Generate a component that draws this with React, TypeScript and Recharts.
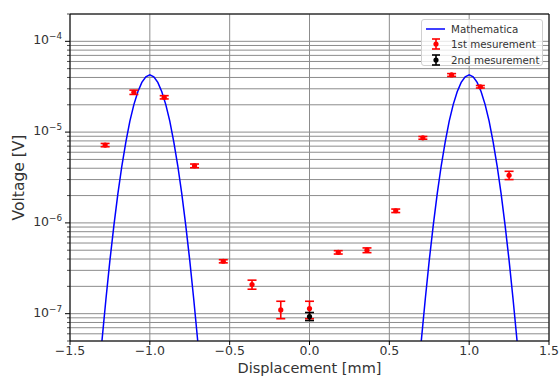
import React from "react";
import {
  ComposedChart,
  Line,
  Scatter,
  ErrorBar,
  XAxis,
  YAxis,
  CartesianGrid,
  ReferenceLine,
} from "recharts";

// 1st measurement (red)
const firstX = [-1.28, -1.1, -0.91, -0.72, -0.54, -0.36, -0.18, 0, 0.18, 0.36, 0.54, 0.71, 0.89, 1.07, 1.25];
const firstV = [7.2e-6, 2.75e-5, 2.42e-5, 4.25e-6, 3.78e-7, 2.09e-7, 1.1e-7, 1.14e-7, 4.74e-7, 5.0e-7, 1.36e-6, 8.65e-6, 4.26e-5, 3.16e-5, 3.35e-6];
const firstLo = [3e-7, 1.5e-6, 1.0e-6, 2e-7, 1.5e-8, 2.3e-8, 2.2e-8, 2.6e-8, 2e-8, 3e-8, 6e-8, 3e-7, 1.5e-6, 1.0e-6, 3.5e-7];
const firstHi = [3e-7, 1.5e-6, 1.0e-6, 2e-7, 1.5e-8, 2.5e-8, 2.7e-8, 2.3e-8, 2e-8, 3e-8, 6e-8, 3e-7, 1.5e-6, 1.0e-6, 3.5e-7];

// 2nd measurement (black)
const secondX = [0];
const secondV = [9.3e-8];
const secondLo = [9e-9];
const secondHi = [1.0e-8];

// Mathematica curve
const leftCurveX = [-1.3, -1.275, -1.25, -1.225, -1.2, -1.175, -1.15, -1.125, -1.1, -1.075, -1.05, -1.025, -1.0, -0.975, -0.95, -0.925, -0.9, -0.875, -0.85, -0.825, -0.8, -0.775, -0.75, -0.725, -0.7];
const rightCurveX = [0.7, 0.725, 0.75, 0.775, 0.8, 0.825, 0.85, 0.875, 0.9, 0.925, 0.95, 0.975, 1.0, 1.025, 1.05, 1.075, 1.1, 1.125, 1.15, 1.175, 1.2, 1.225, 1.25, 1.275, 1.3];
const curveV = [5e-8, 1.44e-7, 3.86e-7, 9.4e-7, 2.1e-6, 4.26e-6, 7.8e-6, 1.32e-5, 2.01e-5, 2.79e-5, 3.53e-5, 4.07e-5, 4.27e-5, 4.07e-5, 3.53e-5, 2.79e-5, 2.01e-5, 1.32e-5, 7.8e-6, 4.26e-6, 2.1e-6, 9.4e-7, 3.86e-7, 1.44e-7, 5e-8];

const xTicks = [-1.5, -1.0, -0.5, 0, 0.5, 1.0, 1.5];
const yDomain = [5e-8, 2e-4];

const yTicks: number[] = [];
for (let e = -8; e <= -4; e++) {
  for (let m = 1; m <= 9; m++) {
    const v = m * Math.pow(10, e);
    if (v >= yDomain[0] * 0.999 && v <= yDomain[1] * 1.001) yTicks.push(v);
  }
}

const firstData = firstX.map((x, i) => ({ x, v: firstV[i], err: [firstLo[i], firstHi[i]] }));
const secondData = secondX.map((x, i) => ({ x, v: secondV[i], err: [secondLo[i], secondHi[i]] }));
const leftCurve = leftCurveX.map((x, i) => ({ x, v: curveV[i] }));
const rightCurve = rightCurveX.map((x, i) => ({ x, v: curveV[i] }));

const FONT = "'DejaVu Sans', sans-serif";

const fmtX = (v: number) => (v < 0 ? "\u2212" + Math.abs(v).toFixed(1) : v.toFixed(1));

const YTick = (props: any) => {
  const { x, y, payload } = props;
  const lg = Math.log10(payload.value);
  const major = Math.abs(lg - Math.round(lg)) < 1e-6;
  return (
    <g>
      <line x1={x} x2={x - (major ? 5 : 3)} y1={y} y2={y} stroke="#000" strokeWidth={major ? 1 : 0.7} />
      {major && (
        <text x={x - 8} y={y + 3} textAnchor="end" fontSize={12.5} fill="#333" fontFamily={FONT}>
          10
          <tspan dy={-5} fontSize={8.8}>
            {"\u2212" + Math.abs(Math.round(lg))}
          </tspan>
        </text>
      )}
    </g>
  );
};

const RedDot = (props: any) => <circle cx={props.cx} cy={props.cy} r={2.6} fill="#ff0000" />;
const BlackDot = (props: any) => <circle cx={props.cx} cy={props.cy} r={2.6} fill="#000000" />;

const ErrSymbol = ({ color }: { color: string }) => (
  <svg width={20} height={12} style={{ display: "block" }}>
    <line x1={10} x2={10} y1={1} y2={11} stroke={color} strokeWidth={1.6} />
    <line x1={6} x2={14} y1={1} y2={1} stroke={color} strokeWidth={1.6} />
    <line x1={6} x2={14} y1={11} y2={11} stroke={color} strokeWidth={1.6} />
    <circle cx={10} cy={6} r={2.6} fill={color} />
  </svg>
);

const legendRows = [
  { label: "Mathematica", kind: "line" },
  { label: "1st mesurement", kind: "red" },
  { label: "2nd mesurement", kind: "black" },
];

export default function App() {
  return (
    <div style={{ position: "absolute", left: 0, top: 0, width: 559, height: 376, background: "#fff", fontFamily: FONT }}>
      <ComposedChart width={559} height={376} margin={{ top: 14, right: 10, bottom: 0, left: 0 }}>
        <CartesianGrid stroke="#8c8c8c" strokeWidth={1} />
        <XAxis
          dataKey="x"
          type="number"
          domain={[-1.5, 1.5]}
          ticks={xTicks}
          tickFormatter={fmtX}
          allowDataOverflow
          height={35}
          tickSize={4}
          tickMargin={1}
          stroke="#000"
          tick={{ fontSize: 12.5, fill: "#333", fontFamily: FONT }}
          label={{
            value: "Displacement [mm]",
            position: "insideBottom",
            offset: 3.5,
            style: { fontSize: 14.5, fill: "#333", fontFamily: FONT },
          }}
        />
        <YAxis
          dataKey="v"
          type="number"
          scale="log"
          domain={yDomain}
          ticks={yTicks}
          allowDataOverflow
          interval={0}
          width={70}
          tickSize={0}
          tickMargin={0}
          tickLine={false}
          stroke="#000"
          tick={<YTick />}
          label={{
            value: "Voltage [V]",
            angle: -90,
            position: "insideLeft",
            offset: 18,
            style: { fontSize: 15.5, fill: "#333", fontFamily: FONT, textAnchor: "middle" },
          }}
        />
        <ReferenceLine y={2e-4} stroke="#000" strokeWidth={1} />
        <ReferenceLine x={1.5} stroke="#000" strokeWidth={1} />
        <Line data={leftCurve} dataKey="v" stroke="#0000ff" strokeWidth={1.5} dot={false} isAnimationActive={false} />
        <Line data={rightCurve} dataKey="v" stroke="#0000ff" strokeWidth={1.5} dot={false} isAnimationActive={false} />
        <Scatter data={firstData} dataKey="v" shape={RedDot} isAnimationActive={false}>
          <ErrorBar dataKey="err" direction="y" width={4.5} stroke="#ff0000" strokeWidth={1.6} isAnimationActive={false} />
        </Scatter>
        <Scatter data={secondData} dataKey="v" shape={BlackDot} isAnimationActive={false}>
          <ErrorBar dataKey="err" direction="y" width={4.5} stroke="#000000" strokeWidth={1.6} isAnimationActive={false} />
        </Scatter>
      </ComposedChart>
      <div
        style={{
          position: "absolute",
          left: 421,
          top: 19,
          width: 122,
          height: 47,
          border: "1px solid #d0d0d0",
          borderRadius: 3,
          background: "rgba(255,255,255,0.8)",
          boxSizing: "border-box",
          paddingTop: 1,
        }}
      >
        {legendRows.map((r) => (
          <div key={r.label} style={{ display: "flex", alignItems: "center", height: 15.5 }}>
            <div style={{ width: 20, marginLeft: 4, marginRight: 5 }}>
              {r.kind === "line" ? (
                <svg width={20} height={12} style={{ display: "block" }}>
                  <line x1={0} x2={19} y1={6} y2={6} stroke="#0000ff" strokeWidth={1.5} />
                </svg>
              ) : (
                <ErrSymbol color={r.kind === "red" ? "#ff0000" : "#000000"} />
              )}
            </div>
            <span style={{ fontSize: 10.3, color: "#333", whiteSpace: "nowrap" }}>{r.label}</span>
          </div>
        ))}
      </div>
    </div>
  );
}
